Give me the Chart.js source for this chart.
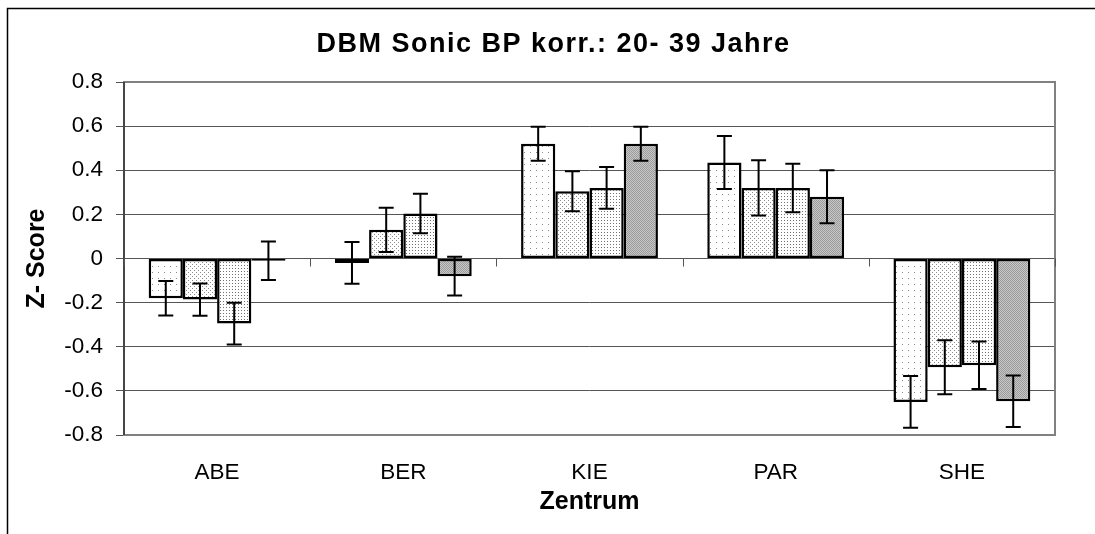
<!DOCTYPE html>
<html lang="de">
<head>
<meta charset="UTF-8" />
<title>DBM Sonic BP korr.: 20- 39 Jahre</title>
<script src="https://cdn.jsdelivr.net/npm/chart.js"></script>
<style>
  html, body { margin: 0; padding: 0; background: #fff; }
</style>
</head>
<body>
<canvas id="zChart" width="1095" height="534"></canvas>
<script>
  // Daten
  const titel = 'DBM Sonic BP korr.: 20- 39 Jahre';
  const zentren = ['ABE', 'BER', 'KIE', 'PAR', 'SHE'];
  const reihe1 = [-0.18, -0.02, 0.52, 0.435, -0.65];
  const reihe2 = [-0.186, 0.13, 0.305, 0.32, -0.493];
  const reihe3 = [-0.295, 0.204, 0.32, 0.32, -0.484];
  const reihe4 = [-0.01, -0.08, 0.52, 0.28, -0.647];
  const fehler1 = [0.078, 0.095, 0.077, 0.12, 0.117];
  const fehler2 = [0.073, 0.10, 0.091, 0.125, 0.122];
  const fehler3 = [0.095, 0.09, 0.095, 0.11, 0.108];
  const fehler4 = [0.087, 0.088, 0.077, 0.12, 0.117];
  const yTicks = [-0.8, -0.6, -0.4, -0.2, 0, 0.2, 0.4, 0.6, 0.8];

  const FONT = "'Liberation Sans', Arial, sans-serif";
  Chart.defaults.font.family = FONT;
  Chart.defaults.color = '#000';

  // Punktraster wie im Original (Excel-Muster)
  function makePattern(size, bg, dots, dotColor) {
    const c = document.createElement('canvas');
    c.width = size;
    c.height = size;
    const g = c.getContext('2d');
    g.fillStyle = bg;
    g.fillRect(0, 0, size, size);
    g.fillStyle = dotColor;
    dots.forEach(d => g.fillRect(d[0], d[1], 1, 1));
    return g.createPattern(c, 'repeat');
  }

  const muster1 = makePattern(6, '#ffffff', [[2, 2]], '#8a8a8a');
  const muster2 = makePattern(4, '#ffffff', [[0, 0], [2, 2]], '#8a8a8a');
  const muster3 = makePattern(3, '#ffffff', [[1, 1]], '#707070');
  const muster4 = makePattern(2, '#c8c8c8', [[0, 0], [1, 1]], '#9a9a9a');

  // Rahmen, Titel, Plotrand und Kategorie-Striche an der Nulllinie
  const rahmenPlugin = {
    id: 'rahmen',
    beforeDatasetsDraw(chart) {
      const { ctx, chartArea, scales } = chart;
      ctx.save();
      ctx.strokeStyle = '#808080';
      ctx.lineWidth = 2;
      ctx.strokeRect(chartArea.left, chartArea.top, chartArea.right - chartArea.left, chartArea.bottom - chartArea.top);
      ctx.strokeStyle = '#333';
      ctx.lineWidth = 1.5;
      ctx.beginPath();
      ctx.moveTo(chartArea.left, chartArea.top);
      ctx.lineTo(chartArea.left, chartArea.bottom);
      ctx.stroke();
      const y0 = scales.y.getPixelForValue(0);
      const half = (scales.x.getPixelForValue(1) - scales.x.getPixelForValue(0)) / 2;
      ctx.strokeStyle = '#555';
      ctx.lineWidth = 1;
      for (let i = 0; i <= zentren.length; i++) {
        const x = Math.round(scales.x.getPixelForValue(i) - half) + 0.5;
        ctx.beginPath();
        ctx.moveTo(x, y0);
        ctx.lineTo(x, y0 + 8);
        ctx.stroke();
      }
      ctx.restore();
    },
    afterDraw(chart) {
      const ctx = chart.ctx;
      ctx.save();
      ctx.strokeStyle = '#000';
      ctx.lineWidth = 1.5;
      ctx.beginPath();
      ctx.moveTo(7.5, chart.height);
      ctx.lineTo(7.5, 8.5);
      ctx.lineTo(chart.width, 8.5);
      ctx.stroke();
      // Titel über die ganze Grafikbreite zentriert
      ctx.fillStyle = '#000';
      ctx.font = 'bold 27px ' + FONT;
      ctx.letterSpacing = '1.5px';
      ctx.textAlign = 'center';
      ctx.textBaseline = 'alphabetic';
      ctx.fillText(titel, (8 + chart.width) / 2 + 2, 52);
      ctx.restore();
    }
  };

  // Fehlerbalken
  const fehlerPlugin = {
    id: 'fehler',
    afterDatasetsDraw(chart) {
      const { ctx, scales } = chart;
      ctx.save();
      ctx.strokeStyle = '#000';
      ctx.lineWidth = 2;
      chart.data.datasets.forEach((ds, di) => {
        const meta = chart.getDatasetMeta(di);
        meta.data.forEach((bar, i) => {
          const v = ds.data[i];
          const e = ds.fehler[i];
          const yTop = scales.y.getPixelForValue(v + e);
          const yBot = scales.y.getPixelForValue(v - e);
          ctx.beginPath();
          ctx.moveTo(bar.x, yTop);
          ctx.lineTo(bar.x, yBot);
          ctx.moveTo(bar.x - 7.5, yTop);
          ctx.lineTo(bar.x + 7.5, yTop);
          ctx.moveTo(bar.x - 7.5, yBot);
          ctx.lineTo(bar.x + 7.5, yBot);
          ctx.stroke();
        });
      });
      ctx.restore();
    }
  };

  function reihe(label, data, fehler, muster) {
    return {
      label: label,
      data: data,
      fehler: fehler,
      backgroundColor: muster,
      borderColor: '#000',
      borderWidth: 2.5,
      borderSkipped: false
    };
  }

  new Chart(document.getElementById('zChart'), {
    type: 'bar',
    data: {
      labels: zentren,
      datasets: [
        reihe('Reihe 1', reihe1, fehler1, muster1),
        reihe('Reihe 2', reihe2, fehler2, muster2),
        reihe('Reihe 3', reihe3, fehler3, muster3),
        reihe('Reihe 4', reihe4, fehler4, muster4)
      ]
    },
    options: {
      responsive: false,
      animation: false,
      devicePixelRatio: 1,
      layout: { padding: { right: 40, top: 82 } },
      datasets: {
        bar: { categoryPercentage: 0.735, barPercentage: 1 }
      },
      plugins: {
        legend: { display: false },
        tooltip: { enabled: false },
        title: { display: false }
      },
      scales: {
        x: {
          grid: { display: false, drawTicks: false },
          border: { display: false },
          ticks: { font: { size: 22.5 }, color: '#000', padding: 24 },
          title: {
            display: true,
            text: 'Zentrum',
            color: '#000',
            font: { size: 25, weight: 'bold' },
            padding: { top: 0, bottom: 17 }
          },
          afterFit(s) { s.height = 99; }
        },
        y: {
          min: -0.8,
          max: 0.8,
          afterBuildTicks(s) { s.ticks = yTicks.map(v => ({ value: v })); },
          grid: { color: '#555', lineWidth: 1, tickLength: 8, tickColor: '#555' },
          border: { display: false },
          ticks: {
            font: { size: 22.5 },
            color: '#000',
            padding: 13,
            callback: v => (v === 0 ? '0' : v.toFixed(1))
          },
          title: {
            display: true,
            text: 'Z- Score',
            color: '#000',
            font: { size: 25, weight: 'bold' },
            padding: { top: 22, bottom: 0 }
          },
          afterFit(s) { s.width = 124; }
        }
      }
    },
    plugins: [rahmenPlugin, fehlerPlugin]
  });
</script>
</body>
</html>
